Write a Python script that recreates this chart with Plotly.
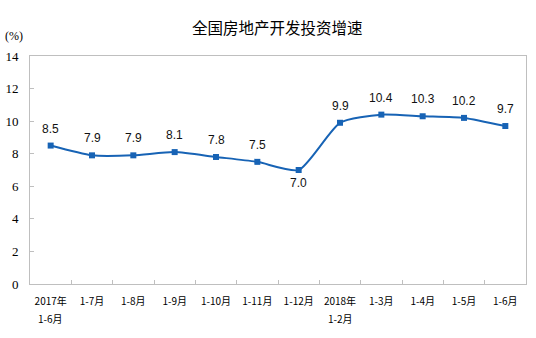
import plotly.graph_objects as go

# 全国房地产开发投资增速（累计同比，%）
periods = ["2017年", "1-7月", "1-8月", "1-9月", "1-10月", "1-11月", "1-12月",
           "2018年", "1-3月", "1-4月", "1-5月", "1-6月"]
# second line under the year-start categories
period_sub = {"2017年": "1-6月", "2018年": "1-2月"}
growth = [8.5, 7.9, 7.9, 8.1, 7.8, 7.5, 7.0, 9.9, 10.4, 10.3, 10.2, 9.7]
y_ticks = [0, 2, 4, 6, 8, 10, 12, 14]

line_color = "#1763B5"
frame_color = "#BFBFBF"
cjk_font = dict(family="Noto Sans CJK SC", size=10, color="#000000")

fig = go.Figure()
fig.add_trace(go.Scatter(
    x=periods, y=growth, mode="lines+markers",
    line=dict(color=line_color, width=2, shape="spline", smoothing=0.6),
    marker=dict(symbol="square", size=6, color=line_color),
    hoverinfo="skip", showlegend=False,
))

# value labels: above each point, except the low point which sits below
for p, v in zip(periods, growth):
    below = v == min(growth)
    fig.add_annotation(
        x=p, y=v, text=f"{v:.1f}", showarrow=False,
        yshift=-13 if below else 17,
        font=dict(family="Liberation Sans, Arial, sans-serif", size=12, color="#111111"),
    )

for p, sub in period_sub.items():
    fig.add_annotation(
        x=p, y=0, yref="y", text=sub, showarrow=False,
        yshift=-34, font=cjk_font,
    )

fig.add_annotation(
    xref="paper", yref="paper", x=0.498, y=1.0, yanchor="middle", yshift=29,
    text="全国房地产开发投资增速", showarrow=False,
    font=dict(family="Noto Sans CJK SC", size=15.5, color="#000000"),
)
fig.add_annotation(
    xref="paper", yref="paper", x=-0.032, y=1.0, yanchor="middle", xanchor="center",
    yshift=20, text="(%)", showarrow=False,
    font=dict(family="Liberation Serif, Times New Roman, serif", size=12, color="#000000"),
)

fig.update_layout(
    width=536, height=338,
    margin=dict(l=30, r=10, t=56, b=54),
    paper_bgcolor="white", plot_bgcolor="white",
    xaxis=dict(
        type="category", tickson="boundaries", ticks="inside", ticklen=4,
        tickcolor=frame_color, showline=True, linecolor=frame_color, linewidth=1,
        mirror=True, showgrid=False, range=[-0.5, len(periods) - 0.5],
        tickfont=cjk_font, ticklabelstandoff=8, tickangle=0, automargin=False,
        fixedrange=True,
    ),
    yaxis=dict(
        range=[0, 14], tickvals=y_ticks, ticks="inside", ticklen=4,
        tickcolor=frame_color, showline=True, linecolor=frame_color, linewidth=1,
        mirror=True, showgrid=False, zeroline=False,
        tickfont=dict(family="Liberation Serif, Times New Roman, serif", size=13, color="#000000"),
        ticklabelstandoff=8, automargin=False,
        fixedrange=True,
    ),
)

fig.write_html("out.html")
